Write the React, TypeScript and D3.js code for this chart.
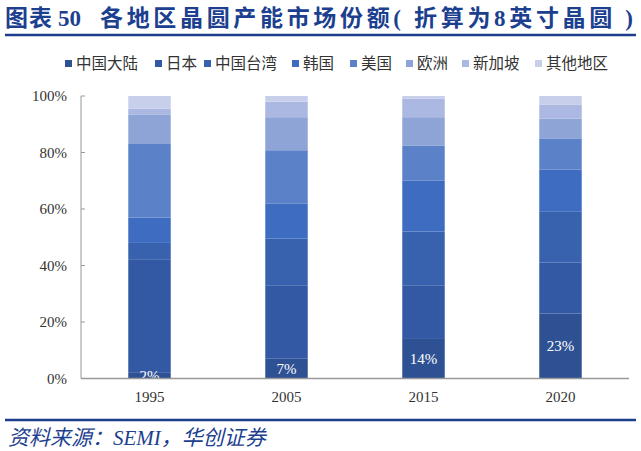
import React from 'react';
import * as d3 from 'd3';

const years = ['1995', '2005', '2015', '2020'];
const regions = ['中国大陆', '日本', '中国台湾', '韩国', '美国', '欧洲', '新加坡', '其他地区'];
const chinaMainland = [2, 7, 14, 23];
const japan = [40, 26, 19, 18];
const taiwan = [6, 16.5, 19, 18];
const korea = [9, 12.5, 18, 15];
const usa = [26, 18.8, 12.5, 11];
const europe = [10.5, 11.7, 10, 7];
const singapore = [2, 5.5, 6.5, 5];
const others = [4.5, 2, 1, 3];
const seriesValues = [chinaMainland, japan, taiwan, korea, usa, europe, singapore, others];
const labels = ['2%', '7%', '14%', '23%'];
const yTicks = [0, 20, 40, 60, 80, 100];

const colors = ['#2e5194', '#3459a4', '#3862ae', '#3d6cc0', '#5b81c8', '#8ea4d7', '#abb9e2', '#c7cfeb'];

const W = 641;
const H = 451;
const M = { left: 81, right: 629, top: 96, bottom: 378.5 };

export default function App() {
  const x = d3.scaleBand<string>().domain(years).range([M.left, M.right]).paddingInner(0.69).paddingOuter(0.345);
  const y = d3.scaleLinear().domain([0, 100]).range([M.bottom, M.top]);

  const rows = years.map((yr, i) => {
    const r: any = { year: yr };
    regions.forEach((reg, j) => (r[reg] = seriesValues[j][i]));
    return r;
  });
  const stack = d3.stack<any>().keys(regions)(rows);

  const legendX = [65, 155, 204, 292, 350, 406, 462, 535];

  const titleFont = "'Liberation Serif', 'Noto Sans CJK SC'";

  return (
    <svg width={W} height={H} style={{ position: 'absolute', left: 0, top: 0, background: '#fff' }}>
      <text x={5} y={26} fontFamily={titleFont} fontWeight="bold" fontSize={23} fill="#1c3f8f" letterSpacing={1}>图表</text>
      <text x={58} y={26} fontFamily={titleFont} fontWeight="bold" fontSize={23} fill="#1c3f8f">50</text>
      <text x={100} y={26} fontFamily={titleFont} fontWeight="bold" fontSize={23} fill="#1c3f8f" textLength={533} lengthAdjust="spacing">各地区晶圆产能市场份额( 折算为8英寸晶圆 )</text>
      <line x1={5} x2={636} y1={35} y2={35} stroke="#1c3c8c" strokeWidth={2.5} />

      {regions.map((reg, i) => (
        <g key={reg} transform={`translate(${legendX[i]},64)`}>
          <rect x={0} y={-4} width={7} height={7} fill={colors[i]} />
          <text x={11} y={0} dy="0.35em" fontSize={15.5} fontFamily="'Noto Sans CJK SC'" fill="#333">{reg}</text>
        </g>
      ))}

      {stack.map((s, j) => (
        <g key={regions[j]} fill={colors[j]}>
          {s.map((d, i) => (
            <rect key={i} x={x(years[i])} width={x.bandwidth()} y={y(d[1])} height={y(d[0]) - y(d[1])} />
          ))}
        </g>
      ))}

      {years.map((yr, i) => (
        <text key={yr} x={(x(yr) as number) + x.bandwidth() / 2} y={y(chinaMainland[i] / 2)} dy="0.35em" textAnchor="middle"
          fontFamily="'Liberation Serif'" fontSize={15} fill="#fff">{labels[i]}</text>
      ))}

      <line x1={M.left} x2={M.left} y1={M.top} y2={M.bottom} stroke="#999" strokeWidth={1} />
      {yTicks.map(t => (
        <g key={t}>
          <line x1={M.left} x2={M.left + 4} y1={y(t)} y2={y(t)} stroke="#999" />
          <text x={67} y={y(t)} dy="0.35em" textAnchor="end" fontFamily="'Liberation Serif'" fontSize={15} fill="#333">{t}%</text>
        </g>
      ))}
      <line x1={M.left} x2={M.right} y1={M.bottom} y2={M.bottom} stroke="#999" strokeWidth={1.5} />
      {years.map(yr => (
        <text key={yr} x={(x(yr) as number) + x.bandwidth() / 2} y={397} dy="0.35em" textAnchor="middle"
          fontFamily="'Liberation Serif'" fontSize={15} fill="#333">{yr}</text>
      ))}

      <line x1={5} x2={636} y1={420} y2={420} stroke="#1c3c8c" strokeWidth={2.5} />
      <text x={8} y={445} fontFamily="'Liberation Serif', 'Noto Sans CJK SC'" fontStyle="italic" fontSize={21} fill="#1c3f8f">资料来源：SEMI，华创证券</text>
    </svg>
  );
}
